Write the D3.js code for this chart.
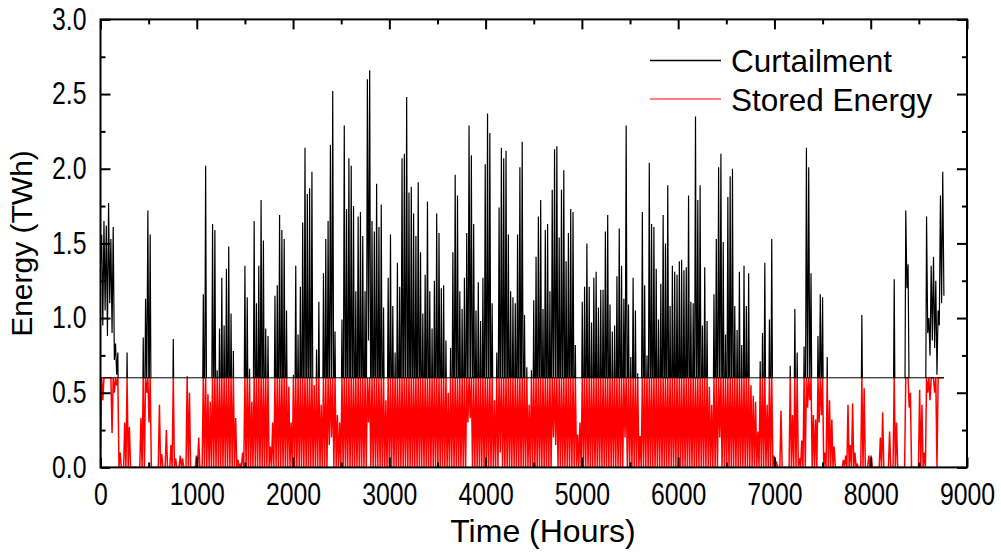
<!DOCTYPE html>
<html><head><meta charset="utf-8">
<script src="https://cdn.jsdelivr.net/npm/d3@7"></script>
<style>
html,body{margin:0;padding:0;background:#fff;}
svg{display:block;font-family:"Liberation Sans",Arial,sans-serif;}
</style>
</head><body>
<svg id="chart" width="1001" height="554"></svg>
<script>
// Daily peak curtailment (TWh), day 0..364
const curtPeak = [
1.56,1.65,1.62,1.77,1.53,1.61,0.83,0.77,0.10,0.00,
0.30,0.77,0.27,0,0,0,0,0.33,0.87,1.13,
1.72,1.56,0,0,0,0.42,0.09,0,0.25,0,
0.15,0.86,0.06,0,0.08,0.06,0,0.61,0.50,0,
0,0.08,0.20,0,1.16,2.02,0.49,0.44,1.63,1.59,
0.65,0.93,1.27,0.95,1.33,1.48,1.03,0.78,0.33,0.05,
0.02,0.10,1.35,1.14,0.66,0.44,1.65,1.10,1.35,1.79,
1.52,0.93,0.88,0.14,0.30,1.15,1.22,1.69,1.59,1.53,
1.05,0.54,0.30,0.62,1.35,0.89,1.21,1.64,2.14,1.83,
1.87,1.98,0.55,0.79,1.11,0.42,1.30,1.53,1.65,2.16,
2.52,0.91,0.35,0.30,0.99,2.29,1.73,2.07,2.02,1.75,
1.18,1.68,1.71,1.55,1.18,2.60,2.66,1.65,1.58,1.90,
1.61,1.76,1.07,0.45,1.27,1.56,1.08,0.77,1.37,1.21,
2.07,2.10,2.48,1.84,1.88,1.70,1.55,1.91,1.44,1.03,
1.29,1.78,1.18,0.93,1.25,1.70,1.57,1.20,1.22,0.85,
0.50,0.80,1.44,1.96,1.82,1.18,1.06,1.27,1.57,2.29,
2.09,1.63,1.05,1.24,0.98,1.27,2.03,2.37,2.24,1.10,
0.45,0.77,1.74,2.14,2.07,2.12,1.56,1.18,1.14,1.10,
1.56,2.01,2.18,1.02,0.67,0.42,0.65,1.12,1.41,1.68,
1.79,1.06,1.59,1.63,1.18,1.86,2.13,2.15,1.54,1.86,
1.99,1.38,1.57,1.73,1.71,0.82,0.22,0.30,1.11,1.21,
1.50,1.21,0.97,1.27,1.31,1.07,1.19,1.19,1.58,1.69,
1.09,0.91,0.95,1.28,1.60,1.35,1.13,2.29,1.09,0.74,
1.27,1.05,0.63,0.21,1.71,1.22,0.75,2.04,1.63,1.61,
1.33,0.99,1.23,1.69,1.50,1.89,1.08,1.35,1.31,1.29,
1.38,1.39,1.32,1.34,1.82,1.11,1.10,2.35,1.79,1.89,
0.95,1.34,0.98,0.54,0.42,1.16,1.53,2.01,2.10,1.51,
0.89,1.81,1.95,2.00,1.08,0.92,1.31,0.82,1.35,1.08,
1.30,0.55,0.48,0.44,0.24,0.71,0.90,1.37,0.42,0.99,
1.53,0.08,0.04,0,0.38,0,0,0,0.68,0.35,
1.06,0.77,0.06,0.18,0.81,2.14,2.01,1.30,0.35,0.32,
0.88,1.16,1.14,0.10,0.74,0.45,0.32,0.14,0,0,
0,0.05,0.08,0.42,0.15,0.43,0.10,0.02,0,1.02,
0.53,0,0.08,0.08,0,0,0,0.20,0.37,0,
0,0.24,0,1.26,0.30,0,0,0,1.72,1.36,
0.50,0,0,0,0.52,0.42,0.10,1.68,1.00,1.35,
1.41,1.25,1.05,1.82,1.98
];
// Curtailment at each day boundary (hour 24*d), d = 0..365
const curtLow = [
1.35,0.95,1.05,0.88,1.10,0.90,0.72,0.62,0,0,
0,0,0,0,0,0,0,0,0,0,
0.5,0.3,0,0,0,0,0,0,0,0,
0,0,0,0,0,0,0,0,0,0,
0,0,0,0,0,0,0,0,0,0,
0,0,0,0,0,0,0,0,0,0,
0,0,0,0,0,0,0,0,0,0,
0,0,0,0,0,0,0,0,0,0,
0,0,0,0,0,0,0,0,0,0,
0,0,0,0,0,0,0,0,0,0.15,
0.2,0,0,0,0,0,0,0,0,0,
0,0,0,0,0,0,0.85,0,0,0,
0,0,0,0,0,0,0,0,0,0,
0,0,0,0,0,0,0,0,0,0,
0,0,0,0,0,0,0,0,0,0,
0,0,0,0,0,0,0,0,0,0.3,
0.33,0,0,0,0,0,0,0,0,0,
0,0,0,0.1,0,0,0,0,0,0,
0,0,0,0,0,0,0,0,0,0,
0,0,0,0,0,0,0.2,0.15,0,0,
0,0,0,0,0,0,0,0,0,0,
0,0,0,0,0,0,0,0,0,0,
0,0,0,0,0,0,0,0.2,0,0,
0,0,0,0,0,0,0,0,0,0,
0,0,0,0,0,0,0,0,0,0,
0,0,0,0,0,0,0,0,0,0,
0,0,0,0,0,0,0,0,0.2,0,
0,0,0,0,0,0,0,0,0,0,
0,0,0,0,0,0,0,0,0,0,
0,0,0,0,0,0,0,0,0,0,
0,0,0,0,0,0,0.4,0.45,0,0,
0,0.3,0.35,0,0,0,0,0,0,0,
0,0,0,0,0,0,0,0,0,0,
0,0,0,0,0,0,0,0,0,0,
0,0,0,0,0,0,0,0,0,1.2,
0.4,0,0,0,0,0,0,0,0.9,0.75,
0.85,0.8,0.62,0.95,1.1,1.15
];
// Daily peak stored energy (TWh), day 0..364
const storedPeak = [
0.6,0.6,0.6,0.6,0.6,0.6,0.6,0.6,0.10,0,
0.30,0.6,0.27,0,0,0,0,0.33,0.6,0.6,
0.6,0.6,0,0,0,0.42,0.09,0,0.25,0,
0.15,0.6,0.06,0,0.08,0.06,0,0.6,0.50,0,
0,0.08,0.20,0,0.6,0.6,0.49,0.44,0.6,0.6,
0.6,0.6,0.6,0.6,0.6,0.6,0.6,0.6,0.33,0.05,
0.02,0.10,0.6,0.6,0.6,0.44,0.6,0.6,0.6,0.6,
0.6,0.6,0.6,0.14,0.30,0.6,0.6,0.6,0.6,0.6,
0.6,0.54,0.30,0.6,0.6,0.6,0.6,0.6,0.6,0.6,
0.6,0.6,0.55,0.6,0.6,0.42,0.6,0.6,0.6,0.6,
0.6,0.6,0.35,0.30,0.6,0.6,0.6,0.6,0.6,0.6,
0.6,0.6,0.6,0.6,0.6,0.6,0.6,0.6,0.6,0.6,
0.6,0.6,0.6,0.45,0.6,0.6,0.6,0.6,0.6,0.6,
0.6,0.6,0.6,0.6,0.6,0.6,0.6,0.6,0.6,0.6,
0.6,0.6,0.6,0.6,0.6,0.6,0.6,0.6,0.6,0.6,
0.50,0.6,0.6,0.6,0.6,0.6,0.6,0.6,0.6,0.6,
0.6,0.6,0.6,0.6,0.6,0.6,0.6,0.6,0.6,0.6,
0.45,0.6,0.6,0.6,0.6,0.6,0.6,0.6,0.6,0.6,
0.6,0.6,0.6,0.6,0.6,0.42,0.6,0.6,0.6,0.6,
0.6,0.6,0.6,0.6,0.6,0.6,0.6,0.6,0.6,0.6,
0.6,0.6,0.6,0.6,0.6,0.6,0.22,0.30,0.6,0.6,
0.6,0.6,0.6,0.6,0.6,0.6,0.6,0.6,0.6,0.6,
0.6,0.6,0.6,0.6,0.6,0.6,0.6,0.6,0.6,0.6,
0.6,0.6,0.6,0.21,0.6,0.6,0.6,0.6,0.6,0.6,
0.6,0.6,0.6,0.6,0.6,0.6,0.6,0.6,0.6,0.6,
0.6,0.6,0.6,0.6,0.6,0.6,0.6,0.6,0.6,0.6,
0.6,0.6,0.6,0.54,0.42,0.6,0.6,0.6,0.6,0.6,
0.6,0.6,0.6,0.6,0.6,0.6,0.6,0.6,0.6,0.6,
0.6,0.55,0.48,0.44,0.24,0.6,0.6,0.6,0.42,0.6,
0.6,0.08,0.04,0,0.38,0,0,0,0.6,0.35,
0.6,0.6,0.06,0.18,0.6,0.6,0.6,0.6,0.35,0.32,
0.6,0.6,0.6,0.10,0.6,0.45,0.32,0.14,0,0,
0,0.05,0.08,0.42,0.15,0.43,0.10,0.02,0,0.6,
0.53,0,0.08,0.08,0,0,0,0.20,0.37,0,
0,0.24,0,0.6,0.30,0,0,0,0.6,0.6,
0.50,0,0,0,0.52,0.42,0.10,0.6,0.6,0.6,
0.6,0.6,0.6,0.6,0.6
];
// Stored energy at each day boundary (hour 24*d), d = 0..365
const storedLow = [
0,0.45,0.6,0.6,0.6,0.23,0.5,0.55,0,0,
0,0,0,0,0,0,0,0,0,0,
0.5,0.3,0,0,0,0,0,0,0,0,
0,0,0,0,0,0,0,0,0,0,
0,0,0,0,0,0,0,0,0,0,
0,0,0,0,0,0,0,0,0,0,
0,0,0,0,0,0,0,0,0,0,
0,0,0,0,0,0,0,0,0,0,
0,0,0,0,0,0,0,0,0,0,
0,0,0,0,0,0,0,0,0,0.15,
0.2,0,0,0,0,0,0,0,0,0,
0,0,0,0,0,0,0.3,0,0,0,
0,0,0,0,0,0,0,0,0,0,
0,0,0,0,0,0,0,0,0,0,
0,0,0,0,0,0,0,0,0,0,
0,0,0,0,0,0,0,0,0,0.3,
0.33,0,0,0,0,0,0,0,0,0,
0,0,0,0.1,0,0,0,0,0,0,
0,0,0,0,0,0,0,0,0,0,
0,0,0,0,0,0,0.2,0.15,0,0,
0,0,0,0,0,0,0,0,0,0,
0,0,0,0,0,0,0,0,0,0,
0,0,0,0,0,0,0,0.2,0,0,
0,0,0,0,0,0,0,0,0,0,
0,0,0,0,0,0,0,0,0,0,
0,0,0,0,0,0,0,0,0,0,
0,0,0,0,0,0,0,0,0.2,0,
0,0,0,0,0,0,0,0,0,0,
0,0,0,0,0,0,0,0,0,0,
0,0,0,0,0,0,0,0,0,0,
0,0,0,0,0,0,0.4,0.45,0,0,
0,0.3,0.35,0,0,0,0,0,0,0,
0,0,0,0,0,0,0,0,0,0,
0,0,0,0,0,0,0,0,0,0,
0,0,0,0,0,0,0,0,0,0.6,
0.4,0,0,0,0,0,0,0,0.5,0.45,
0.6,0.5,0,0.6,0.6,0.6
];
const capacityLevel = 0.6;
const yMajorTicks = [0, 0.5, 1.0, 1.5, 2.0, 2.5, 3.0];
const yMinorTicks = [0.25, 0.75, 1.25, 1.75, 2.25, 2.75];
const xMajorTicks = [0, 1000, 2000, 3000, 4000, 5000, 6000, 7000, 8000, 9000];
const xMinorTicks = [500, 1500, 2500, 3500, 4500, 5500, 6500, 7500, 8500];
const seriesNames = ["Curtailment", "Stored Energy"];
const seriesColors = ["#000000", "#ff0000"];
const xTitle = "Time (Hours)";
const yTitle = "Energy (TWh)";

const svg = d3.select("#chart");
const L = 100.5, R = 967, T = 19.4, B = 467.4;
const x = d3.scaleLinear().domain([0, 9000]).range([L, R]);
const y = d3.scaleLinear().domain([0, 3]).range([B, T]);

function buildSeries(peak, low) {
  const pts = [];
  peak.forEach((p, d) => { pts.push([24 * d, low[d]]); pts.push([24 * d + 12, p]); });
  pts.push([24 * peak.length, low[peak.length]]);
  return pts;
}
const curt = buildSeries(curtPeak, curtLow);
const stored = buildSeries(storedPeak, storedLow);
const hoursEnd = 24 * curtPeak.length;

const defs = svg.append("defs");
defs.append("clipPath").attr("id", "clip").append("rect")
  .attr("x", L).attr("y", T).attr("width", R - L).attr("height", B - T);
// curtailment below the storage level is hidden under the stored-energy trace
defs.append("clipPath").attr("id", "clipTop").append("rect")
  .attr("x", L).attr("y", T).attr("width", R - L).attr("height", y(capacityLevel) - T + 0.5);

const line = d3.line().x(d => x(d[0])).y(d => y(d[1]));
svg.append("g").attr("clip-path", "url(#clipTop)")
  .append("path").datum(curt).attr("d", line).attr("fill", "none")
  .attr("stroke", seriesColors[0]).attr("stroke-width", 1.2);
const g = svg.append("g").attr("clip-path", "url(#clip)");
g.append("path").datum(stored).attr("d", line).attr("fill", "none")
  .attr("stroke", seriesColors[1]).attr("stroke-width", 1.5);
g.append("path").datum([[0, capacityLevel], [hoursEnd, capacityLevel]]).attr("d", line)
  .attr("fill", "none").attr("stroke", "#000").attr("stroke-width", 1);

// axes
const tickFont = 31, squeeze = 0.8;
function styleAxis(sel) {
  sel.select(".domain").remove();
  sel.selectAll(".tick line").attr("stroke", "#000").attr("stroke-width", 2);
  sel.selectAll("text").attr("font-size", tickFont).attr("fill", "#000")
    .attr("font-family", '"Liberation Sans", Arial, sans-serif');
}
const leftAx = svg.append("g").attr("transform", `translate(${L},0)`)
  .call(d3.axisLeft(y).tickValues(yMajorTicks).tickFormat(d3.format(".1f")).tickSize(-10).tickPadding(14))
  .call(styleAxis);
leftAx.selectAll("text").attr("x", 0).attr("transform", `translate(-14,0) scale(${squeeze},1)`);
svg.append("g").attr("transform", `translate(${L},0)`)
  .call(d3.axisLeft(y).tickValues(yMinorTicks).tickFormat("").tickSize(-5)).call(styleAxis);
svg.append("g").attr("transform", `translate(${R},0)`)
  .call(d3.axisRight(y).tickValues(yMajorTicks).tickFormat("").tickSize(-10)).call(styleAxis);
svg.append("g").attr("transform", `translate(${R},0)`)
  .call(d3.axisRight(y).tickValues(yMinorTicks).tickFormat("").tickSize(-5)).call(styleAxis);
const botAx = svg.append("g").attr("transform", `translate(0,${B})`)
  .call(d3.axisBottom(x).tickValues(xMajorTicks).tickFormat(d3.format("d")).tickSize(-10).tickPadding(16))
  .call(styleAxis);
botAx.selectAll("text").attr("transform", `scale(${squeeze},1)`);
svg.append("g").attr("transform", `translate(0,${B})`)
  .call(d3.axisBottom(x).tickValues(xMinorTicks).tickFormat("").tickSize(-5)).call(styleAxis);
svg.append("g").attr("transform", `translate(0,${T})`)
  .call(d3.axisTop(x).tickValues(xMajorTicks).tickFormat("").tickSize(-10)).call(styleAxis);
svg.append("g").attr("transform", `translate(0,${T})`)
  .call(d3.axisTop(x).tickValues(xMinorTicks).tickFormat("").tickSize(-5)).call(styleAxis);

// frame
svg.append("rect").attr("x", L).attr("y", T).attr("width", R - L).attr("height", B - T)
  .attr("fill", "none").attr("stroke", "#000").attr("stroke-width", 2);

// titles
svg.append("text").attr("x", 543).attr("y", 542).attr("text-anchor", "middle")
  .attr("font-size", 32).text(xTitle);
svg.append("text").attr("transform", "translate(32,243.5) rotate(-90)").attr("text-anchor", "middle")
  .attr("font-size", 30).text(yTitle);

// legend
const lg = svg.append("g");
seriesNames.forEach((n, i) => {
  const yy = 60.5 + i * 38.5;
  lg.append("line").attr("x1", 650).attr("x2", 721).attr("y1", yy).attr("y2", yy)
    .style("stroke", seriesColors[i]).style("stroke-width", i === 0 ? 1.4 : 1.2);
  lg.append("text").attr("x", 731).attr("y", yy + 11.5).attr("font-size", 31.5).text(n);
});
</script>
</body></html>
